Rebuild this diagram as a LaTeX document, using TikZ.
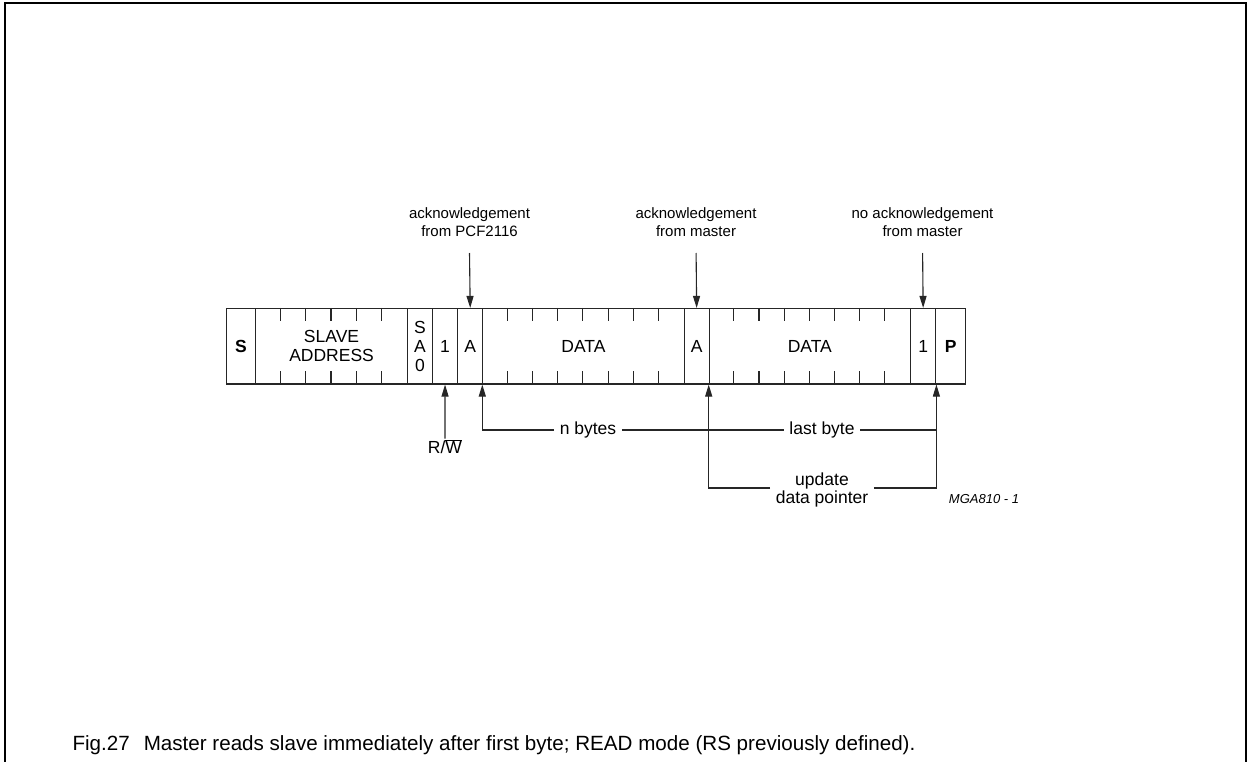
\documentclass[tikz,border=0pt]{standalone}
\usepackage{fontspec}
\setmainfont{Liberation Sans}
\usetikzlibrary{arrows.meta}
\begin{document}
\begin{tikzpicture}[x=1pt,y=-1pt,
  field/.style={draw=black!85,line width=1.1pt,rectangle,inner sep=0pt,minimum height=75.5pt,anchor=west,font=\fontsize{17.5}{19}\selectfont,align=center},
  lbl/.style={font=\fontsize{15}{18}\selectfont,align=center,inner sep=0pt},
  gaplbl/.style={font=\fontsize{17.5}{18.5}\selectfont,align=center,inner xsep=5.5pt,inner ysep=0pt},
  conn/.style={draw=black!85,line width=1.1pt},
  arr/.style={conn,-{Triangle[length=12pt,width=7pt]}},
  tick/.style={draw=black!85,line width=1.1pt}]
\useasboundingbox (0,0) rectangle (1247,762);
% frame
\draw[line width=2pt] (5,763) -- (5,3) -- (1246,3) -- (1246,763);
% fields
\node[field,minimum width=29pt] (S) at (226,346.25) {\textbf{S}};
\node[field,minimum width=152pt] (SA) at (255,346.25) {SLAVE\\ADDRESS};
\node[field,minimum width=25pt] (SA0) at (407,346.25) {\fontsize{17.5}{18.5}\selectfont S\\A\\0};
\node[field,minimum width=25pt] (RW) at (432,346.25) {1};
\node[field,minimum width=25.3pt] (A1) at (457,346.25) {A};
\node[field,minimum width=201.2pt] (D1) at (482.3,346.25) {DATA};
\node[field,minimum width=25.2pt] (A2) at (683.5,346.25) {A};
\node[field,minimum width=201.2pt] (D2) at (708.7,346.25) {DATA};
\node[field,minimum width=25.4pt] (N1) at (909.9,346.25) {1};
\node[field,minimum width=29.7pt] (P) at (935.3,346.25) {\textbf{P}};
% ticks
\foreach \k in {1,...,5}{
  \draw[tick] ([xshift=\k*25.33pt]SA.north west) -- ++(0,13);
  \draw[tick] ([xshift=\k*25.33pt]SA.south west) -- ++(0,-14);
}
\foreach \k in {1,...,7}{
  \draw[tick] ([xshift=\k*25.15pt]D1.north west) -- ++(0,13);
  \draw[tick] ([xshift=\k*25.15pt]D1.south west) -- ++(0,-14);
  \draw[tick] ([xshift=\k*25.15pt]D2.north west) -- ++(0,13);
  \draw[tick] ([xshift=\k*25.15pt]D2.south west) -- ++(0,-14);
}
% top labels
\node[lbl] (ack1) at (469.5,222) {acknowledgement\\from PCF2116};
\node[lbl] (ack2) at (696,222) {acknowledgement\\from master};
\node[lbl] (ack3) at (922.5,222) {no acknowledgement\\from master};
\coordinate (t1) at (469.5,253);
\coordinate (t2) at (696.1,253);
\coordinate (t3) at (922.6,253);
\draw[arr] (t1) -- (A1.north);
\draw[arr] (t2) -- (A2.north);
\draw[arr] (t3) -- (N1.north);
% bottom
\node[font=\fontsize{17.5}{19}\selectfont,inner xsep=0pt,inner ysep=1pt] (rwl) at (445,447) {R/$\overline{\mbox{W}}$};
\draw[arr] (rwl.north) -- (RW.south);
\node[gaplbl] (nb) at (588,430) {n bytes};
\node[gaplbl] (lb) at (822,430) {last byte};
\node[gaplbl] (up) at (822,490) {update\\data pointer};
\draw[arr] (nb.west) -| (D1.south west);
\draw[conn] (nb.east) -- (lb.west);
\draw[conn] (lb.east) -- (lb.east -| N1.south east);
\draw[arr] ([yshift=2pt]up.west) -| (D2.south west);
\draw[arr] ([yshift=2pt]up.east) -| (N1.south east);
\node[font=\fontsize{13}{15}\selectfont\itshape,inner sep=0pt] (mga) at (984,499) {MGA810 - 1};
% caption
\node[font=\fontsize{20.6}{24}\selectfont,inner sep=0pt] (cap) at (494,745) {Fig.27\hspace{0.4em} Master reads slave immediately after first byte; READ mode (RS previously defined).};
\end{tikzpicture}
\end{document}
